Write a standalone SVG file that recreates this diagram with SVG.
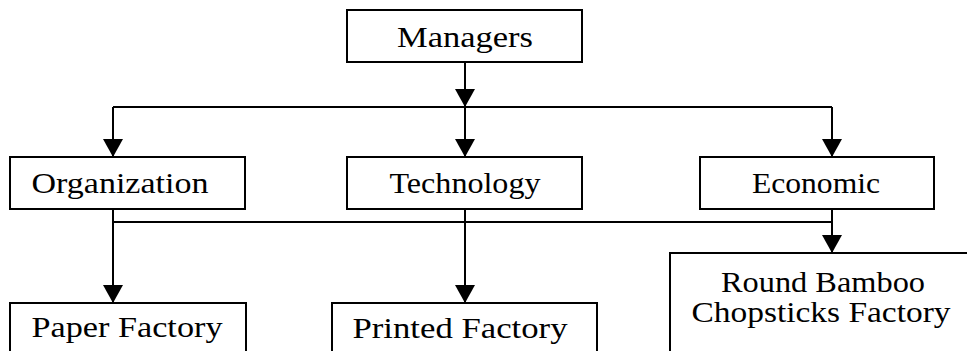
<svg xmlns="http://www.w3.org/2000/svg" width="967" height="351" viewBox="0 0 967 351">
  <style>
    .box { fill: #ffffff; stroke: #000000; stroke-width: 2; }
    .lbl { font-family: "Liberation Serif", "Times New Roman", serif; font-size: 30px; fill: #000000; text-anchor: middle; }
    .wire { fill: none; stroke: #000000; stroke-width: 2; }
  </style>
  <defs>
    <marker id="arrow" viewBox="0 0 18 20" refX="18" refY="10" markerWidth="18" markerHeight="20" markerUnits="userSpaceOnUse" orient="auto">
      <path d="M0,0 L18,10 L0,20 z" fill="#000000"/>
    </marker>
  </defs>

  <rect width="967" height="351" fill="#ffffff"/>

  <!-- connectors -->
  <g id="connectors">
    <line class="wire" x1="465" y1="62" x2="465" y2="107" marker-end="url(#arrow)"/>
    <line class="wire" x1="113" y1="107" x2="832" y2="107"/>
    <line class="wire" x1="113" y1="107" x2="113" y2="157" marker-end="url(#arrow)"/>
    <line class="wire" x1="465" y1="107" x2="465" y2="157" marker-end="url(#arrow)"/>
    <line class="wire" x1="832" y1="107" x2="832" y2="157" marker-end="url(#arrow)"/>
    <line class="wire" x1="113" y1="222" x2="832" y2="222"/>
    <line class="wire" x1="113" y1="209" x2="113" y2="303" marker-end="url(#arrow)"/>
    <line class="wire" x1="465" y1="209" x2="465" y2="303" marker-end="url(#arrow)"/>
    <line class="wire" x1="832" y1="209" x2="832" y2="253" marker-end="url(#arrow)"/>
  </g>

  <!-- top level -->
  <g id="managers">
    <rect class="box" x="347" y="10" width="235" height="52"/>
    <text class="lbl" x="465" y="47" textLength="136" lengthAdjust="spacingAndGlyphs">Managers</text>
  </g>

  <!-- middle level -->
  <g id="organization">
    <rect class="box" x="10" y="157" width="235" height="52"/>
    <text class="lbl" x="120" y="193" textLength="177" lengthAdjust="spacingAndGlyphs">Organization</text>
  </g>
  <g id="technology">
    <rect class="box" x="347" y="157" width="235" height="52"/>
    <text class="lbl" x="465" y="193" textLength="151" lengthAdjust="spacingAndGlyphs">Technology</text>
  </g>
  <g id="economic">
    <rect class="box" x="700" y="157" width="234" height="52"/>
    <text class="lbl" x="816" y="193" textLength="128" lengthAdjust="spacingAndGlyphs">Economic</text>
  </g>

  <!-- factories -->
  <g id="paper-factory">
    <rect class="box" x="10" y="303" width="236" height="60"/>
    <text class="lbl" x="127" y="337" textLength="191" lengthAdjust="spacingAndGlyphs">Paper Factory</text>
  </g>
  <g id="printed-factory">
    <rect class="box" x="332" y="303" width="265" height="60"/>
    <text class="lbl" x="460" y="338" textLength="215" lengthAdjust="spacingAndGlyphs">Printed Factory</text>
  </g>
  <g id="chopsticks-factory">
    <rect class="box" x="670" y="253" width="320" height="110"/>
    <text class="lbl" x="823" y="292" textLength="204" lengthAdjust="spacingAndGlyphs">Round Bamboo</text>
    <text class="lbl" x="821" y="322" textLength="259" lengthAdjust="spacingAndGlyphs">Chopsticks Factory</text>
  </g>
</svg>
